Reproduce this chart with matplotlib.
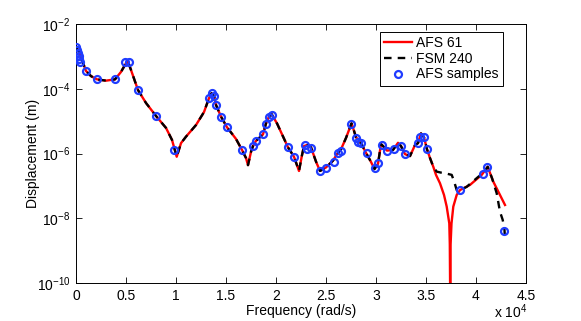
import numpy as np
import matplotlib
matplotlib.use("Agg")
import matplotlib.pyplot as plt
from matplotlib.ticker import FixedLocator, NullLocator, FixedFormatter

plt.rcParams['font.family'] = ['Liberation Sans', 'DejaVu Sans']
plt.rcParams['mathtext.default'] = 'regular'

# ---- data (frequency in rad/s, displacement as log10 of metres) ----
freq_common = [0, 200, 400, 600, 1000, 1500, 2100, 3000, 3900, 4500, 5000, 5200, 5500,
               6200, 7000, 8000, 9000, 9600, 10070, 10500, 11000, 12000, 12800, 13300,
               13550, 13800, 14000, 14500, 15100, 16000, 16600, 17000, 17200, 17500,
               17700, 18000, 18700, 19000, 19300, 19550, 19700, 20100, 21200, 21800,
               22300, 22600, 22800, 23100, 23500, 24000, 24400, 25000, 25700, 26100,
               26500, 27000, 27550, 27800, 28000, 28300, 28600, 29000, 29500, 29850,
               30200, 30500, 30700, 31100, 31700, 32200, 32500, 32900, 33400, 33900,
               34200, 34500, 34800, 35100]
logdisp_common = [-2.72, -2.80, -2.95, -3.12, -3.45, -3.61, -3.71, -3.75, -3.71, -3.48,
                  -3.21, -3.16, -3.42, -4.04, -4.44, -4.84, -5.21, -5.58, -6.10, -5.68,
                  -5.48, -5.12, -4.72, -4.29, -4.14, -4.22, -4.50, -4.86, -5.19, -5.55,
                  -5.89, -6.14, -6.36, -5.95, -5.77, -5.61, -5.41, -5.07, -4.86, -4.78,
                  -4.86, -5.07, -5.81, -6.10, -6.54, -6.05, -5.77, -5.74, -5.81, -6.25,
                  -6.54, -6.43, -6.22, -6.02, -5.87, -5.52, -5.07, -5.30, -5.50, -5.60,
                  -5.74, -5.98, -6.26, -6.48, -6.32, -5.71, -5.77, -5.91, -5.89, -5.67,
                  -5.77, -6.02, -6.08, -5.74, -5.68, -5.38, -5.50, -5.87]

freq_afs_tail = [35400, 35730, 36000, 36400, 36800, 37070, 37250, 37330, 37380, 37420,
                 37460, 37550, 37730, 38070, 38400, 39400, 40570, 41170, 41730, 42300, 42900]
logdisp_afs_tail = [-6.14, -6.41, -6.66, -6.92, -7.28, -7.64, -8.00, -8.16, -8.80, -10.5,
                    -8.80, -8.16, -7.64, -7.28, -7.13, -6.97, -6.66, -6.41, -6.87, -7.22, -7.59]

freq_fsm_tail = [35400, 35730, 36070, 36500, 36900, 37570, 37800, 38070, 38400, 39070,
                 39700, 40230, 40730, 41170, 41600, 42070, 42400, 42670, 42850, 42900]
logdisp_fsm_tail = [-6.14, -6.41, -6.56, -6.59, -6.61, -6.66, -6.85, -7.13, -7.13, -7.03,
                    -6.86, -6.72, -6.61, -6.41, -6.76, -7.23, -7.80, -8.05, -8.36, -8.67]

freq_samples = [0, 100, 170, 250, 330, 430, 1000, 2070, 3900, 4930, 5270, 6170, 8000,
                9830, 13330, 13570, 13800, 14000, 14500, 15070, 16630, 17700, 17970,
                18670, 19000, 19300, 19600, 21230, 21800, 22900, 23070, 23470, 24400,
                25000, 25800, 26230, 26470, 27470, 28000, 28230, 28470, 29070, 29900,
                30230, 30570, 31130, 31800, 32470, 32900, 34170, 34400, 34830, 35070,
                38400, 40730, 41130, 42830]
logdisp_samples = [-2.71, -2.80, -2.90, -2.99, -3.08, -3.17, -3.45, -3.71, -3.71, -3.17,
                   -3.17, -4.04, -4.84, -5.89, -4.29, -4.14, -4.22, -4.50, -4.86, -5.19,
                   -5.89, -5.77, -5.61, -5.40, -5.09, -4.86, -4.81, -5.81, -6.10, -5.74,
                   -5.87, -5.82, -6.53, -6.44, -6.25, -5.99, -5.91, -5.09, -5.53, -5.64,
                   -5.68, -5.98, -6.46, -6.30, -5.74, -5.91, -5.87, -5.77, -6.02, -5.68,
                   -5.50, -5.50, -5.87, -7.13, -6.63, -6.41, -8.38]

x_ticks = [0, 5000, 10000, 15000, 20000, 25000, 30000, 35000, 40000, 45000]
x_ticklabels = ['0', '0.5', '1', '1.5', '2', '2.5', '3', '3.5', '4', '4.5']
y_ticks = [1e-10, 1e-8, 1e-6, 1e-4, 1e-2]
y_ticklabels = ['$10^{-10}$', '$10^{-8}$', '$10^{-6}$', '$10^{-4}$', '$10^{-2}$']

# ---- build series ----
f_afs = np.array(freq_common + freq_afs_tail, dtype=float)
d_afs = 10.0 ** np.array(logdisp_common + logdisp_afs_tail)
f_fsm = np.array(freq_common + freq_fsm_tail, dtype=float)
d_fsm = 10.0 ** np.array(logdisp_common + logdisp_fsm_tail)
f_s = np.array(freq_samples, dtype=float)
d_s = 10.0 ** np.array(logdisp_samples)

fig = plt.figure(figsize=(5.81, 3.21), dpi=100)
ax = fig.add_axes([76/581, 38/321, 450/581, 259/321])

ax.semilogy(f_afs, d_afs, color='red', lw=1.7, label='AFS 61', zorder=2)
ax.semilogy(f_fsm, d_fsm, color='black', lw=1.7, ls=(0, (3.2, 2.6)), label='FSM 240', zorder=3)
ax.semilogy(f_s, d_s, ls='none', marker='o', ms=5, mfc='none', mec='#1f3cff', mew=1.6,
            label='AFS samples', zorder=4)

ax.set_xlim(0, 45000)
ax.set_ylim(1e-10, 1e-2)
ax.xaxis.set_major_locator(FixedLocator(x_ticks))
ax.xaxis.set_major_formatter(FixedFormatter(x_ticklabels))
ax.yaxis.set_major_locator(FixedLocator(y_ticks))
ax.yaxis.set_major_formatter(FixedFormatter(y_ticklabels))
ax.yaxis.set_minor_locator(NullLocator())
ax.xaxis.set_minor_locator(NullLocator())
ax.tick_params(which='both', direction='in', top=True, right=True, length=4,
               width=0.6, labelsize=10, pad=4)
for s in ax.spines.values():
    s.set_linewidth(0.7)

ax.set_xlabel('Frequency (rad/s)', fontsize=10, labelpad=1)
ax.set_ylabel('Displacement (m)', fontsize=10)
ax.yaxis.set_label_coords((40 - 76) / 450, 0.5)
fig.text(527/581, 1 - 312/321, 'x $10^{4}$', ha='right', va='center', fontsize=10)

leg = ax.legend(loc='upper right', bbox_to_anchor=(427/450, (283-32)/259), borderaxespad=0,
                fontsize=10, numpoints=1, fancybox=False, framealpha=1, edgecolor='black',
                labelspacing=0.12, borderpad=0.3, handlelength=2.0, handletextpad=0.3)
leg.get_frame().set_linewidth(0.7)

fig.savefig('out.png', dpi=100)
